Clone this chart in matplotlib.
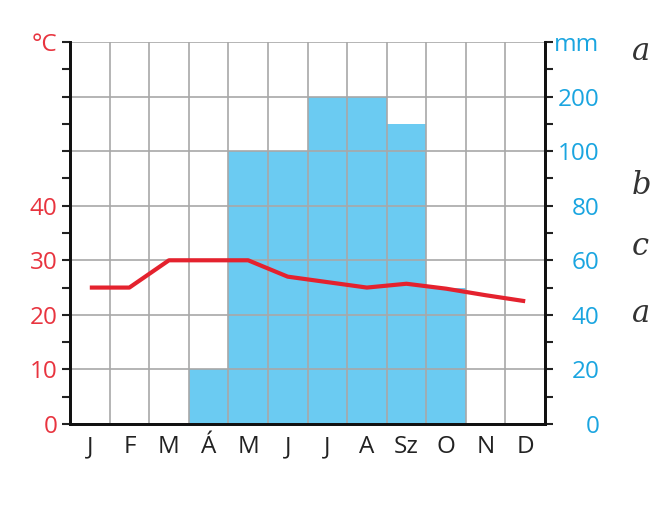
import matplotlib
matplotlib.use("Agg")
import matplotlib.pyplot as plt
import numpy as np

months = ["J", "F", "M", "Á", "M", "J", "J", "A", "Sz", "O", "N", "D"]
temperature = [25, 25, 30, 30, 30, 27, 26, 25, 25.7, 24.8, 23.6, 22.5]
precipitation = [0, 0, 0, 20, 100, 100, 200, 200, 150, 50, 0, 0]

temp_ticks = [0, 10, 20, 30, 40, 50, 60, 70]
temp_labels = ["0", "10", "20", "30", "40", "", "", "°C"]
prec_ticks = [0, 20, 40, 60, 80, 100, 200, 300]
prec_labels = ["0", "20", "40", "60", "80", "100", "200", "mm"]
side_letters = ["a", "b", "c", "a"]

RED = "#E4222E"
REDTXT = "#E8343F"
BLUE = "#6BCBF2"
BLUETXT = "#1AA5E0"
GRID = "#A8A8A8"

plt.rcParams["font.family"] = ["Open Sans", "DejaVu Sans"]

def fwd(p):
    p = np.asarray(p, dtype=float)
    return np.where(p <= 100, p / 2.0, 50 + (p - 100) / 10.0)

def inv(t):
    t = np.asarray(t, dtype=float)
    return np.where(t <= 50, t * 2.0, 100 + (t - 50) * 10.0)

fig = plt.figure(figsize=(6.51, 5.14), dpi=100)
ax = fig.add_axes([70 / 651, 90 / 514, 475 / 651, 382 / 514])
ax.set_yscale("function", functions=(fwd, inv))

x = np.arange(len(months))
ax.bar(x, precipitation, width=1.0, color=BLUE, linewidth=0, zorder=1)
ax.set_xlim(-0.5, 11.5)
ax.set_ylim(0, 300)

ax2 = ax.twinx()

ax.set_axisbelow(False)
ax.set_xticks(x)
ax.set_xticklabels(months, fontsize=17.5, color="#222222")
ax.set_xticks(np.arange(-0.5, 12, 1), minor=True)
ax.tick_params(axis="x", which="both", length=0, pad=8)
ax.grid(True, axis="x", which="minor", color=GRID, linewidth=1.2, zorder=2)

ax.yaxis.tick_right()
ax.set_yticks(prec_ticks)
ax.set_yticklabels(prec_labels)
ax.set_yticks([10, 30, 50, 70, 90, 150, 250], minor=True)
ax.tick_params(axis="y", which="both", direction="out", length=6, width=1.5,
               color="#222222", labelcolor=BLUETXT, labelsize=17.5, pad=33,
               left=False, right=True, labelleft=False, labelright=True)
for lab in ax.get_yticklabels():
    lab.set_horizontalalignment("right")
ax.grid(True, axis="y", which="major", color=GRID, linewidth=1.2, zorder=2)

ax2.yaxis.tick_left()
ax2.set_ylim(0, 70)
ax2.set_yticks(temp_ticks)
ax2.set_yticklabels(temp_labels)
ax2.set_yticks(np.arange(5, 70, 10), minor=True)
ax2.tick_params(axis="y", which="both", direction="out", length=6, width=1.5,
                color="#222222", labelcolor=REDTXT, labelsize=17.5, pad=3,
                left=True, right=False, labelleft=True, labelright=False)
ax2.plot(x, temperature, color=RED, linewidth=3.0, solid_joinstyle="round",
         solid_capstyle="butt", zorder=5)

for a in (ax, ax2):
    a.spines["top"].set_visible(False)
    for s in ("left", "right", "bottom"):
        a.spines[s].set_color("#111111")
        a.spines[s].set_linewidth(2.0)
        a.spines[s].set_zorder(6)

ys = [52, 185, 246, 313]
for letter, yp in zip(side_letters, ys):
    fig.text(632 / 651, 1 - yp / 514, letter, fontsize=22, style="italic",
             family="DejaVu Serif", color="#333333", va="center", ha="left")

fig.savefig("out.png", dpi=100)
